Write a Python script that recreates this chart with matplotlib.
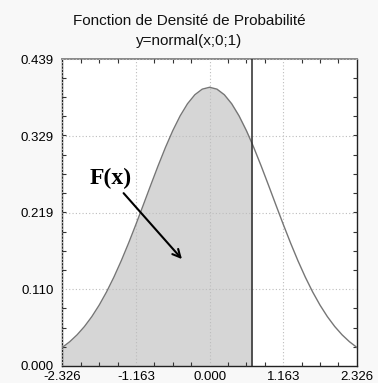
import matplotlib
matplotlib.use('Agg')
import matplotlib.pyplot as plt
from matplotlib.ticker import FixedLocator, AutoMinorLocator

# standard normal density, sampled along the axis
x_vals = [-2.326, -2.2097, -2.0934, -1.9771, -1.8608, -1.7445, -1.6282, -1.5119,
          -1.3956, -1.2793, -1.163, -1.0467, -0.9304, -0.8141, -0.6978, -0.5815,
          -0.4652, -0.3489, -0.2326, -0.1163, 0.0, 0.1163, 0.2326, 0.3489, 0.4652,
          0.5815, 0.674, 0.6978, 0.8141, 0.9304, 1.0467, 1.163, 1.2793, 1.3956,
          1.5119, 1.6282, 1.7445, 1.8608, 1.9771, 2.0934, 2.2097, 2.326]
y_vals = [0.02667, 0.03472, 0.04459, 0.05650, 0.07063, 0.08711, 0.10598, 0.12722,
          0.15065, 0.17600, 0.20286, 0.23067, 0.25878, 0.28641, 0.31273, 0.33689,
          0.35802, 0.37538, 0.38829, 0.39625, 0.39894, 0.39625, 0.38829, 0.37538, 0.35802,
          0.33689, 0.31787, 0.31273, 0.28641, 0.25878, 0.23067, 0.20286, 0.17600, 0.15065,
          0.12722, 0.10598, 0.08711, 0.07063, 0.05650, 0.04459, 0.03472, 0.02667]
x_cut = 0.674

x_ticks = [-2.326, -1.163, 0.000, 1.163, 2.326]
y_ticks = [0.000, 0.110, 0.219, 0.329, 0.439]
x_labels = ['-2.326', '-1.163', '0.000', '1.163', '2.326']
y_labels = ['0.000', '0.110', '0.219', '0.329', '0.439']

plt.rcParams['font.family'] = ['Liberation Sans', 'DejaVu Sans']
plt.rcParams['axes.unicode_minus'] = False

fig = plt.figure(figsize=(3.78, 3.83), dpi=100, facecolor='#f8f8f8')
ax = fig.add_axes([0.165, 0.0444, 0.779, 0.8008])
ax.set_facecolor('white')

# shaded area up to the cut
xs = [x for x in x_vals if x <= x_cut]
ys = y_vals[:len(xs)]
ax.fill_between(xs, 0, ys, color='#d6d6d6', lw=0, zorder=1)
ax.grid(True, color='#bdbdbd', linestyle=(0, (1, 2)), lw=0.8, zorder=2)
ax.set_axisbelow(False)
ax.plot(x_vals, y_vals, color='#767676', lw=1.0, zorder=3)
ax.axvline(x_cut, color='#2a2a2a', lw=1.1, zorder=4)

ax.annotate('F(x)', xy=(-0.437, 0.153), xytext=(-1.56, 0.268),
            fontsize=17, fontweight='bold', family='Liberation Serif',
            ha='center', va='center',
            arrowprops=dict(arrowstyle='->', color='black', lw=1.5,
                            shrinkA=1, shrinkB=0, mutation_scale=14))

ax.set_xlim(x_ticks[0], x_ticks[-1])
ax.set_ylim(y_ticks[0], y_ticks[-1])
ax.xaxis.set_major_locator(FixedLocator(x_ticks))
ax.yaxis.set_major_locator(FixedLocator(y_ticks))
ax.set_xticklabels(x_labels)
ax.set_yticklabels(y_labels)
ax.xaxis.set_minor_locator(AutoMinorLocator(4))
ax.yaxis.set_minor_locator(AutoMinorLocator(4))
ax.tick_params(which='major', length=0, labelsize=9.5, colors='black')
ax.tick_params(axis='x', which='major', pad=3.5)
ax.tick_params(axis='y', which='major', pad=6)
ax.tick_params(which='minor', direction='in', length=3, width=0.8,
               color='#333333', top=True, right=True)

for side in ['left', 'bottom', 'right']:
    ax.spines[side].set_color('#222222')
    ax.spines[side].set_linewidth(1.0)
ax.spines['top'].set_color('#888888')
ax.spines['top'].set_linewidth(1.4)

fig.text(0.5, 0.945, 'Fonction de Densité de Probabilité', ha='center', va='center',
         fontsize=11, color='#111111')
fig.text(0.5, 0.893, 'y=normal(x;0;1)', ha='center', va='center',
         fontsize=11, color='#111111')

fig.savefig('out.png', dpi=100, facecolor=fig.get_facecolor())
